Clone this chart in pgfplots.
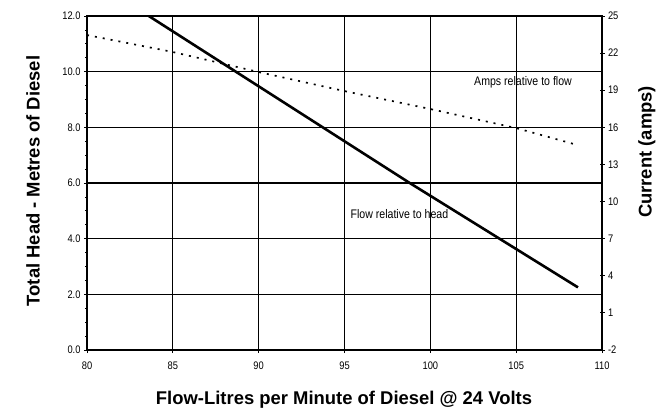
\documentclass[border=0pt]{standalone}
\usepackage{fontspec}
\setmainfont{Liberation Sans}
\newfontfamily\narrow[FakeStretch=0.85]{Liberation Sans}
\usepackage{pgfplots}
\pgfplotsset{compat=1.18}
\begin{document}
\begin{tikzpicture}[x=1bp,y=1bp]
\path[use as bounding box] (0,0) rectangle (666,416);
\begin{axis}[
  at={(87bp,66bp)}, anchor=south west,
  width=515bp, height=334bp, scale only axis,
  xmin=80, xmax=110, ymin=0, ymax=12,
  xtick={80,85,...,110}, ytick={0,2,...,12},
  minor y tick num=3,
  tick pos=left, tick align=outside,
  major tick length=3bp, minor tick length=2bp,
  grid=major, major grid style={black, line width=1.1bp},
  axis line style={black, line width=1.2bp},
  every tick/.style={black, line width=0.8bp},
  /pgf/number format/assume math mode=true,
  ticklabel style={font=\narrow\fontsize{11}{13}\selectfont},
  yticklabel style={/pgf/number format/.cd, fixed, fixed zerofill, precision=1},
  xticklabel style={yshift=-5bp},
  xlabel={Flow-Litres per Minute of Diesel @ 24 Volts},
  ylabel={Total Head - Metres of Diesel},
  label style={font=\bfseries\fontsize{18.5}{21}\selectfont},
  xlabel style={at={(axis description cs:0.499,-0.150)}, anchor=center},
  ylabel style={at={(axis description cs:-0.105,0.506)}, anchor=center, rotate=0},
  clip=true,
]
\addplot[black, line width=2.6bp] coordinates {
  (83.6,12.0) (98.8,6.0) (108.6,2.25)
};
\node[font=\narrow\fontsize{12.5}{14}\selectfont] at (axis cs:105.4,9.63) {Amps relative to flow};
\node[font=\narrow\fontsize{12.5}{14}\selectfont] at (axis cs:98.2,4.89) {Flow relative to head};
\end{axis}
\begin{axis}[
  at={(87bp,66bp)}, anchor=south west,
  width=515bp, height=334bp, scale only axis,
  xmin=80, xmax=110, ymin=-2, ymax=25,
  ytick={-2,1,...,25},
  axis y line*=right, axis x line=none,
  tick align=center, major tick length=5bp,
  axis line style={black, line width=1.2bp},
  every tick/.style={black, line width=0.8bp},
  /pgf/number format/assume math mode=true,
  ticklabel style={font=\narrow\fontsize{11}{13}\selectfont},
  ylabel={Current (amps)},
  label style={font=\bfseries\fontsize{18.5}{21}\selectfont},
  ylabel style={at={(axis description cs:1.087,0.593)}, anchor=center, rotate=0},
]
\addplot[black, line width=1.7bp, dash pattern=on 2bp off 6bp] coordinates {
  (80,23.46) (85,22.09) (90,20.47) (95,18.93) (100,17.48) (105,15.94) (108.6,14.56)
};
\end{axis}
\end{tikzpicture}
\end{document}
